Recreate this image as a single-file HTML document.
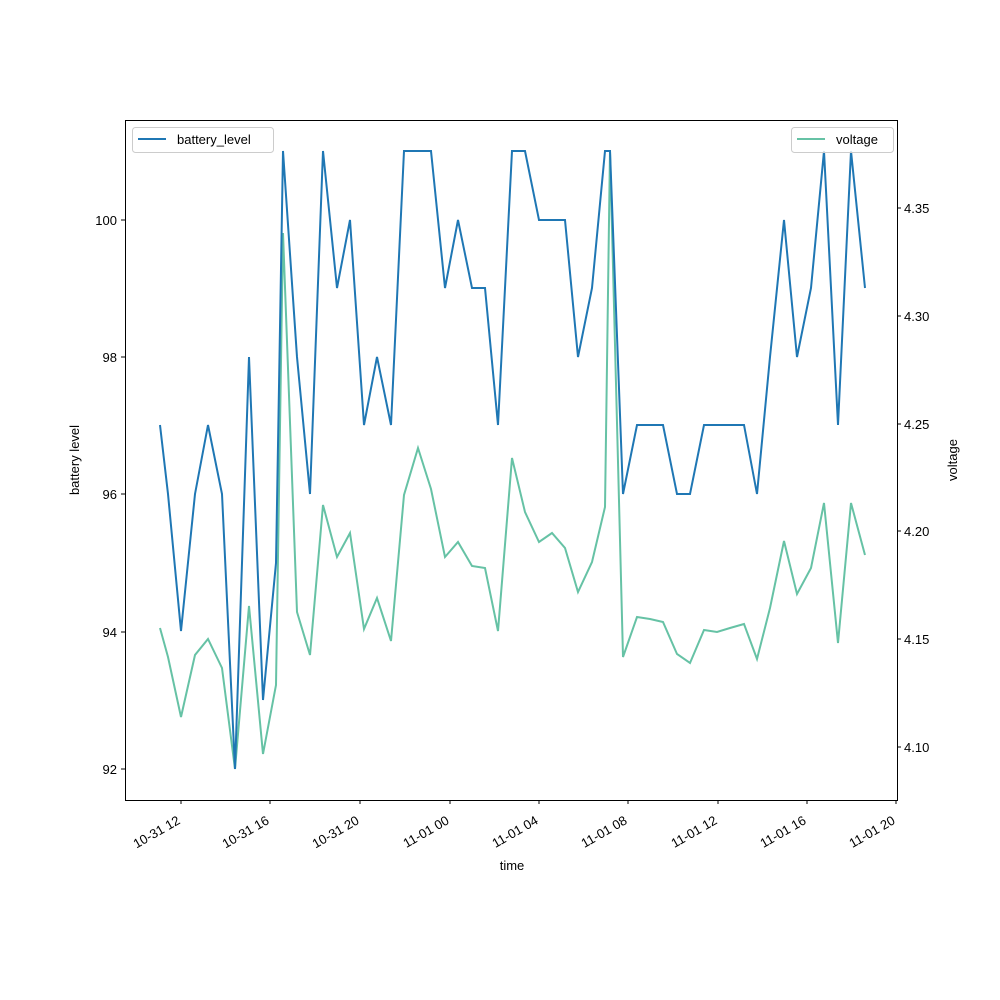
<!DOCTYPE html>
<html><head><meta charset="utf-8"><style>body{margin:0;background:#fff}svg{display:block}text{font-family:"Liberation Sans","DejaVu Sans",sans-serif;font-size:13px;fill:#000}</style></head>
<body>
<svg width="1000" height="1000" viewBox="0 0 1000 1000">
<rect width="1000" height="1000" fill="#fff"/>
<polyline fill="none" stroke="#66c2a5" stroke-width="2" points="160,628 168,657 181,717 195,655 208,639 222,668 235,769 249,606 263,754 276,685 283,233 297,612 310,655 323,505 337,557 350,533 364,629 377,598 391,641 404,495 418,448 431,489 445,557 458,542 472,566 485,568 498,631 512,458 525,512 539,542 552,533 565,548 578,592 592,562 605,507 610,150 623,657 637,617 650,619 663,622 677,654 690,663 704,630 717,632 730,628 744,624 757,659 770,608 784,541 797,594 811,568 824,503 838,643 851,503 865,555"/>
<polyline fill="none" stroke="#1f77b4" stroke-width="2" points="160,425 168,494 181,631 195,494 208,425 222,494 235,769 249,357 263,700 276,563 283,151 297,357 310,494 323,151 337,288 350,220 364,425 377,357 391,425 404,151 418,151 431,151 445,288 458,220 472,288 485,288 498,425 512,151 525,151 539,220 552,220 565,220 578,357 592,288 605,151 610,151 623,494 637,425 650,425 663,425 677,494 690,494 704,425 717,425 730,425 744,425 757,494 770,357 784,220 797,357 811,288 824,151 838,425 851,151 865,288"/>
<rect x="125.5" y="120.5" width="772" height="680" fill="none" stroke="#000" stroke-width="1"/>
<g stroke="#000">
<line x1="125" y1="769" x2="121" y2="769"/><line x1="125" y1="632" x2="121" y2="632"/><line x1="125" y1="494" x2="121" y2="494"/><line x1="125" y1="357" x2="121" y2="357"/><line x1="125" y1="220" x2="121" y2="220"/>
<line x1="897" y1="747" x2="901" y2="747"/><line x1="897" y1="639" x2="901" y2="639"/><line x1="897" y1="531" x2="901" y2="531"/><line x1="897" y1="424" x2="901" y2="424"/><line x1="897" y1="316" x2="901" y2="316"/><line x1="897" y1="208" x2="901" y2="208"/>
<line x1="181" y1="800" x2="181" y2="804"/><line x1="270" y1="800" x2="270" y2="804"/><line x1="360" y1="800" x2="360" y2="804"/><line x1="450" y1="800" x2="450" y2="804"/><line x1="539" y1="800" x2="539" y2="804"/><line x1="628" y1="800" x2="628" y2="804"/><line x1="718" y1="800" x2="718" y2="804"/><line x1="807" y1="800" x2="807" y2="804"/><line x1="896" y1="800" x2="896" y2="804"/>
</g>
<g text-anchor="end">
<text x="117" y="774">92</text><text x="117" y="637">94</text><text x="117" y="499">96</text><text x="117" y="362">98</text><text x="117" y="225">100</text>
</g>
<g>
<text x="904" y="752">4.10</text><text x="904" y="644">4.15</text><text x="904" y="536">4.20</text><text x="904" y="429">4.25</text><text x="904" y="321">4.30</text><text x="904" y="213">4.35</text>
</g>
<g text-anchor="end">
<text transform="translate(181,823) rotate(-30)">10-31 12</text>
<text transform="translate(270,823) rotate(-30)">10-31 16</text>
<text transform="translate(360,823) rotate(-30)">10-31 20</text>
<text transform="translate(450,823) rotate(-30)">11-01 00</text>
<text transform="translate(539,823) rotate(-30)">11-01 04</text>
<text transform="translate(628,823) rotate(-30)">11-01 08</text>
<text transform="translate(718,823) rotate(-30)">11-01 12</text>
<text transform="translate(807,823) rotate(-30)">11-01 16</text>
<text transform="translate(896,823) rotate(-30)">11-01 20</text>
</g>
<text x="512" y="870" text-anchor="middle">time</text>
<text transform="translate(79,460) rotate(-90)" text-anchor="middle">battery level</text>
<text transform="translate(957,460) rotate(-90)" text-anchor="middle">voltage</text>
<rect x="132.5" y="127.5" width="141" height="25" rx="3" fill="#fff" fill-opacity="0.8" stroke="#ccc"/>
<line x1="138" y1="139" x2="166" y2="139" stroke="#1f77b4" stroke-width="2"/>
<text x="177" y="144">battery_level</text>
<rect x="791.5" y="127.5" width="102" height="25" rx="3" fill="#fff" fill-opacity="0.8" stroke="#ccc"/>
<line x1="797" y1="139" x2="825" y2="139" stroke="#66c2a5" stroke-width="2"/>
<text x="836" y="144">voltage</text>
</svg>
</body></html>
